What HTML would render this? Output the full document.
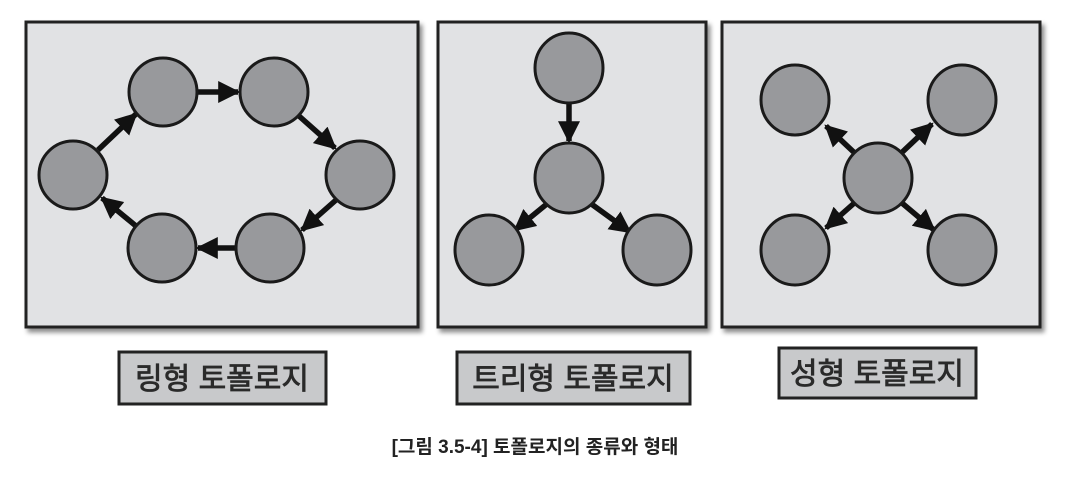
<!DOCTYPE html>
<html><head><meta charset="utf-8"><style>
body{margin:0;background:#fff;width:1070px;height:488px;overflow:hidden}
</style></head><body>
<svg width="1070" height="488" xmlns="http://www.w3.org/2000/svg" font-family="'Liberation Sans','Noto Sans CJK KR',sans-serif">
<defs>
<marker id="a" viewBox="0 0 10 10" refX="9" refY="5" markerWidth="4" markerHeight="4" orient="auto" markerUnits="strokeWidth"><path d="M0,0L10,5L0,10z" fill="#111"/></marker>
<filter id="s" x="-5%" y="-5%" width="115%" height="115%"><feDropShadow dx="3" dy="4" stdDeviation="2.5" flood-color="#000" flood-opacity="0.45"/></filter>
</defs>
<g fill="#e1e2e4" stroke="#222" stroke-width="3" filter="url(#s)">
<rect x="26" y="22" width="392" height="305"/>
<rect x="438" y="22" width="268" height="305"/>
<rect x="722" y="22" width="318" height="305"/>
</g>
<g stroke="#111" stroke-width="5.5" marker-end="url(#a)">
<line x1="197" y1="92" x2="238" y2="92"/>
<line x1="299" y1="116" x2="335" y2="148"/>
<line x1="336" y1="200" x2="302" y2="230"/>
<line x1="236" y1="248" x2="198" y2="248"/>
<line x1="136" y1="226" x2="102" y2="198"/>
<line x1="98" y1="150" x2="136" y2="114"/>
<line x1="569" y1="103" x2="569" y2="141"/>
<line x1="548" y1="203" x2="515" y2="230"/>
<line x1="590" y1="203" x2="630" y2="232"/>
<line x1="860" y1="158" x2="826" y2="126"/>
<line x1="896" y1="158" x2="932" y2="124"/>
<line x1="860" y1="198" x2="826" y2="228"/>
<line x1="896" y1="198" x2="934" y2="230"/>
</g>
<g fill="#98999c" stroke="#1a1a1a" stroke-width="3">
<ellipse cx="163" cy="92" rx="34" ry="34"/>
<ellipse cx="274" cy="92" rx="34" ry="34"/>
<ellipse cx="360" cy="175" rx="34" ry="34"/>
<ellipse cx="270" cy="248" rx="34" ry="34"/>
<ellipse cx="162" cy="248" rx="34" ry="34"/>
<ellipse cx="73" cy="175" rx="34" ry="34"/>
<ellipse cx="569" cy="68" rx="34" ry="35"/>
<ellipse cx="569" cy="178" rx="34" ry="35"/>
<ellipse cx="489" cy="250" rx="34" ry="35"/>
<ellipse cx="657" cy="250" rx="34" ry="35"/>
<ellipse cx="878" cy="178" rx="34" ry="35"/>
<ellipse cx="795" cy="100" rx="34" ry="35"/>
<ellipse cx="962" cy="100" rx="34" ry="35"/>
<ellipse cx="795" cy="250" rx="34" ry="35"/>
<ellipse cx="962" cy="250" rx="34" ry="35"/>
</g>
<g fill="#c8c9cb" stroke="#222" stroke-width="3">
<rect x="119" y="352" width="207" height="52"/>
<rect x="457" y="352" width="233" height="52"/>
<rect x="779" y="348" width="197" height="50"/>
</g>
<g fill="#2a2a2a" stroke="#2a2a2a" stroke-width="0.8" font-size="30" text-anchor="middle">
<text x="222" y="389">링형 토폴로지</text>
<text x="573" y="389">트리형 토폴로지</text>
<text x="877" y="384">성형 토폴로지</text>
</g>
<text x="535" y="453" text-anchor="middle" font-size="19" font-weight="bold" fill="#222">[그림 3.5-4] 토폴로지의 종류와 형태</text>
</svg>
</body></html>
